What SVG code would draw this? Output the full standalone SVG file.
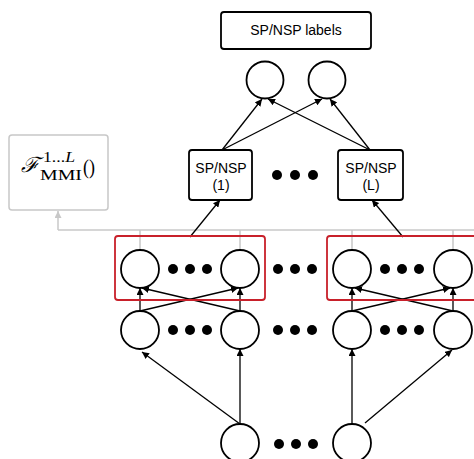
<svg xmlns="http://www.w3.org/2000/svg" width="474" height="459" viewBox="0 0 474 459">
<style>
.n{fill:#fff;stroke:#000;stroke-width:1.8}
.b{fill:#fff;stroke:#000;stroke-width:1.8}
.t{font-family:"Liberation Sans",Arial,sans-serif;font-size:14px;fill:#000;text-anchor:middle}
.e{stroke:#000;stroke-width:1.3;fill:none;marker-end:url(#ah)}
.d{fill:#000}
.g{stroke:#c8c8c8;stroke-width:1.5;fill:none}
.r{fill:none;stroke:#c8202a;stroke-width:1.8}
.m{font-family:"Liberation Serif","DejaVu Serif",serif;fill:#000}
</style>
<defs>
<marker id="ah" viewBox="0 0 10 10" refX="10" refY="5" markerWidth="7" markerHeight="7" markerUnits="userSpaceOnUse" orient="auto"><path d="M0,0 L10,5 L0,10 z" fill="#000"/></marker>
<marker id="gh" viewBox="0 0 10 10" refX="10" refY="5" markerWidth="7" markerHeight="7" markerUnits="userSpaceOnUse" orient="auto"><path d="M0,0 L10,5 L0,10 z" fill="#c8c8c8"/></marker>
</defs>
<g id="connectors">
<path class="g" d="M58,230 L474,230" />
<path class="g" d="M58,230 L58,211" marker-end="url(#gh)"/>
<path class="g" d="M140,230 V250 M240,230 V250 M352,230 V250 M453,230 V250"/>
<path class="e" d="M222,150 L262,99"/>
<path class="e" d="M222,150 L322,99"/>
<path class="e" d="M370,150 L268,99"/>
<path class="e" d="M370,150 L330,99"/>
<path class="e" d="M190,237 L220,200"/>
<path class="e" d="M403,237 L372,200"/>
<path class="e" d="M140,311 L140,288"/>
<path class="e" d="M140,311 L238,288"/>
<path class="e" d="M240,311 L142,288"/>
<path class="e" d="M240,311 L240,288"/>
<path class="e" d="M352,311 L352,288"/>
<path class="e" d="M352,311 L450,288"/>
<path class="e" d="M453,311 L355,288"/>
<path class="e" d="M453,311 L453,288"/>
<path class="e" d="M240,424 L142,352"/>
<path class="e" d="M240,424 L240,349"/>
<path class="e" d="M352,424 L352,349"/>
<path class="e" d="M365,423 L452,350"/>
</g>
<g id="labels-box"><rect class="b" x="221" y="12" width="150" height="37" rx="3"/><text class="t" x="296" y="35" font-size="13.6">SP/NSP labels</text></g>
<g id="out1"><circle class="n" cx="265" cy="80" r="18.5"/></g>
<g id="out2"><circle class="n" cx="327" cy="80" r="18.5"/></g>
<g id="spnsp1"><rect class="b" x="189" y="150" width="63" height="50" rx="3"/><text class="t" x="221" y="173">SP/NSP</text><text class="t" x="221" y="190">(1)</text></g>
<g id="spnspL"><rect class="b" x="338" y="150" width="65" height="50" rx="3"/><text class="t" x="371" y="173">SP/NSP</text><text class="t" x="371" y="190">(L)</text></g>
<g id="dots-top"><circle class="d" cx="277" cy="175" r="5"/><circle class="d" cx="295" cy="175" r="5"/><circle class="d" cx="313" cy="175" r="5"/></g>
<g id="fmmi"><rect x="9" y="135" width="99" height="75" rx="3" fill="#fff" stroke="#c8c8c8" stroke-width="1.5"/>
<text class="m" x="21" y="172" font-size="21" font-style="italic" textLength="18" lengthAdjust="spacingAndGlyphs">ℱ</text>
<text class="m" x="43" y="162" font-size="15" textLength="32" lengthAdjust="spacingAndGlyphs">1...<tspan font-style="italic">L</tspan></text>
<text class="m" x="40" y="180" font-size="15" textLength="42" lengthAdjust="spacingAndGlyphs">MMI</text>
<text class="m" x="83" y="174" font-size="20" textLength="12" lengthAdjust="spacingAndGlyphs">()</text>
</g>
<g id="group1"><rect class="r" x="115" y="236" width="150" height="64" rx="3"/></g>
<g id="group2"><rect class="r" x="327" y="236" width="160" height="64" rx="3"/></g>
<g id="h2">
<circle class="n" cx="140" cy="269" r="19"/><circle class="n" cx="240" cy="269" r="19"/><circle class="n" cx="352" cy="269" r="19"/><circle class="n" cx="453" cy="269" r="19"/>
</g>
<g id="h1">
<circle class="n" cx="140" cy="330" r="19"/><circle class="n" cx="240" cy="330" r="19"/><circle class="n" cx="352" cy="330" r="19"/><circle class="n" cx="453" cy="330" r="19"/>
</g>
<g id="inputs">
<circle class="n" cx="240" cy="443" r="19"/><circle class="n" cx="352" cy="443" r="19"/>
</g>
<g id="dots">
<circle class="d" cx="173" cy="269" r="5"/><circle class="d" cx="190" cy="269" r="5"/><circle class="d" cx="207" cy="269" r="5"/>
<circle class="d" cx="278" cy="269" r="5"/><circle class="d" cx="295" cy="269" r="5"/><circle class="d" cx="312" cy="269" r="5"/>
<circle class="d" cx="385" cy="269" r="5"/><circle class="d" cx="402" cy="269" r="5"/><circle class="d" cx="419" cy="269" r="5"/>
<circle class="d" cx="173" cy="330" r="5"/><circle class="d" cx="190" cy="330" r="5"/><circle class="d" cx="207" cy="330" r="5"/>
<circle class="d" cx="278" cy="330" r="5"/><circle class="d" cx="295" cy="330" r="5"/><circle class="d" cx="312" cy="330" r="5"/>
<circle class="d" cx="385" cy="330" r="5"/><circle class="d" cx="402" cy="330" r="5"/><circle class="d" cx="419" cy="330" r="5"/>
<circle class="d" cx="279" cy="444" r="5"/><circle class="d" cx="296" cy="444" r="5"/><circle class="d" cx="313" cy="444" r="5"/>
</g>
</svg>
